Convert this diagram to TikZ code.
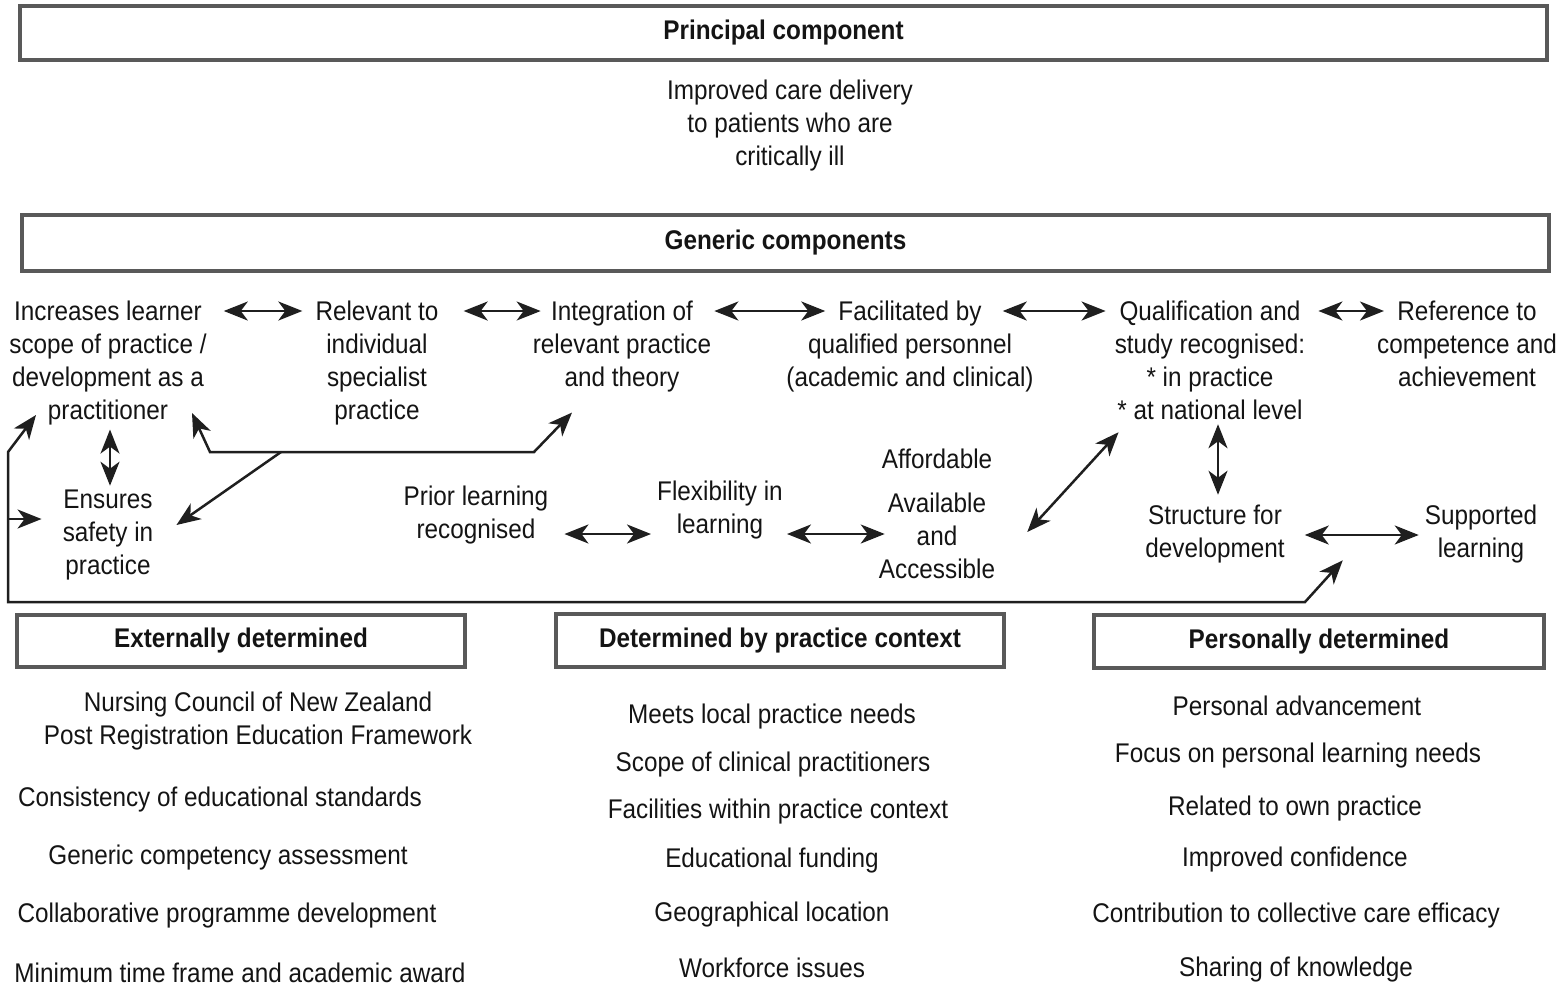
\documentclass[tikz,border=0pt]{standalone}
\usepackage{fontspec}
\setmainfont{Liberation Sans}[FakeStretch=0.9]
\usetikzlibrary{arrows.meta}

\begin{document}
\begin{tikzpicture}[x=1pt,y=-1pt,
            every node/.style={font=\fontsize{27}{33}\selectfont,text=black!92},
            hdrbox/.style={draw=black!65,line width=3.5pt,minimum height=54pt,inner sep=0pt,
                font=\fontsize{27}{33}\selectfont\bfseries},
            txt/.style={align=center,inner sep=4pt},
            dbl/.style={{Stealth[length=24pt,width=19pt,inset=7pt]}-{Stealth[length=24pt,width=19pt,inset=7pt]},line width=2.5pt,draw=black!88},
            one/.style={-{Stealth[length=24pt,width=19pt,inset=7pt]},line width=2.5pt,draw=black!88}]
            \useasboundingbox (0,0) rectangle (1565,986);

            % top boxes
            \node[hdrbox,minimum width=1527pt] (principal) at (783.5,33) {Principal component};
            \node[txt] (care) at (790,126) {Improved care delivery\\to patients who are\\critically ill};
            \node[hdrbox,minimum width=1527pt,minimum height=56pt] (generic) at (785.5,243) {Generic components};

            % generic row
            \node[txt,anchor=north] (incr) at (108,297) {Increases learner\\scope of practice /\\development as a\\practitioner};
            \node[txt,anchor=north] (relev) at (377,297) {Relevant to\\individual\\specialist\\practice};
            \node[txt,anchor=north] (integ) at (622,297) {Integration of\\relevant practice\\and theory};
            \node[txt,anchor=north] (facil) at (910,297) {Facilitated by\\qualified personnel\\(academic and clinical)};
            \node[txt,anchor=north] (qualif) at (1210,297) {Qualification and\\study recognised:\\* in practice\\* at national level};
            \node[txt,anchor=north] (refer) at (1467,297) {Reference to\\competence and\\achievement};

            \node[txt] (safety) at (108,535) {Ensures\\safety in\\practice};
            \node[txt] (prior) at (476,515) {Prior learning\\recognised};
            \node[txt] (flex) at (720,510) {Flexibility in\\learning};
            \node[txt] (avail) at (937,514) {Affordable\\[11pt]Available\\and\\Accessible};
            \node[txt] (struct) at (1215,534) {Structure for\\development};
            \node[txt] (supp) at (1481,534) {Supported\\learning};

            \draw[dbl,shorten <=13pt,shorten >=9pt] ([yshift=-14pt]incr.north east) -- ([yshift=-14pt]relev.north west);
            \draw[dbl,shorten <=21pt,shorten >=-12pt] ([yshift=-14pt]relev.north east) -- ([yshift=-14pt]integ.north west);
            \draw[dbl,shorten <=-1pt,shorten >=-43pt] ([yshift=-14pt]integ.north east) -- ([yshift=-14pt]facil.north west);
            \draw[dbl,shorten <=-35pt,shorten >=5pt] ([yshift=-14pt]facil.north east) -- ([yshift=-14pt]qualif.north west);
            \draw[dbl,shorten <=9pt,shorten >=-11pt] ([yshift=-14pt]qualif.north east) -- ([yshift=-14pt]refer.north west);

            \draw[dbl] ([xshift=2pt]incr.south) -- ([xshift=2pt]safety.north);
            \draw[dbl,shorten >=6pt] ([xshift=8pt]qualif.south) -- ([xshift=3pt]struct.north);
            \draw[dbl,shorten <=12pt,shorten >=2pt] ([yshift=-19pt]prior.east) -- ([yshift=-19pt]prior.east -| flex.west);
            \draw[dbl,shorten <=0pt,shorten >=-10pt] ([yshift=-24pt]flex.east) -- ([yshift=-24pt]flex.east -| avail.west);
            \draw[dbl] ([xshift=28pt,yshift=-18pt]avail.east) -- ([xshift=8pt,yshift=-8pt]qualif.south west);
            \draw[dbl,shorten <=16pt,shorten >=2pt] ([yshift=-1pt]struct.east) -- ([yshift=-1pt]struct.east -| supp.west);

            % branch from the centre line
            \coordinate (br) at (281,452);
            \coordinate (brl) at (210,452);
            \coordinate (brr) at (534,452);
            \draw[one] (br) -- (brl) -- (192,413);
            \draw[one] (br) -- (brr) -- ([xshift=-50pt,yshift=-16pt]integ.south);
            \draw[one] (br) -- ([xshift=19pt,yshift=10pt]safety.east);

            % loop along the bottom
            \coordinate (lpa) at (8,602);
            \coordinate (lpb) at (8,452);
            \coordinate (lpc) at (8,519);
            \coordinate (lpd) at (1305,602);
            \draw[one] (lpc) -- (lpb) -- (36,415);
            \draw[one] (lpc) -- ([xshift=-17pt,yshift=16pt]safety.west);
            \draw[one] (lpc) -- (lpa) -- (lpd) -- ([xshift=54pt,yshift=7pt]struct.south east);

            % bottom boxes
            \node[hdrbox,minimum width=448pt,minimum height=52pt] (ext) at (241,641) {Externally determined};
            \node[hdrbox,minimum width=448pt,minimum height=53pt] (ctx) at (780,640.5) {Determined by practice context};
            \node[hdrbox,minimum width=450pt,minimum height=53pt] (pers) at (1319,641.5) {Personally determined};

            \node[txt] (e1) at (258,721) {Nursing Council of New Zealand\\Post Registration Education Framework};
            \node[txt] (e2) at (220,800) {Consistency of educational standards};
            \node[txt] (e3) at (228,858) {Generic competency assessment};
            \node[txt] (e4) at (227,916) {Collaborative programme development};
            \node[txt] (e5) at (240,973) {Minimum time frame and academic award};

            \node[txt] (d1) at (772,717) {Meets local practice needs};
            \node[txt] (d2) at (773,765) {Scope of clinical practitioners};
            \node[txt] (d3) at (778,812) {Facilities within practice context};
            \node[txt] (d4) at (772,861) {Educational funding};
            \node[txt] (d5) at (772,915) {Geographical location};
            \node[txt] (d6) at (772,968) {Workforce issues};

            \node[txt] (p1) at (1297,706) {Personal advancement};
            \node[txt] (p2) at (1298,756) {Focus on personal learning needs};
            \node[txt] (p3) at (1295,809) {Related to own practice};
            \node[txt] (p4) at (1295,860) {Improved confidence};
            \node[txt] (p5) at (1296,916) {Contribution to collective care efficacy};
            \node[txt] (p6) at (1296,970) {Sharing of knowledge};
        \end{tikzpicture}
\end{document}
